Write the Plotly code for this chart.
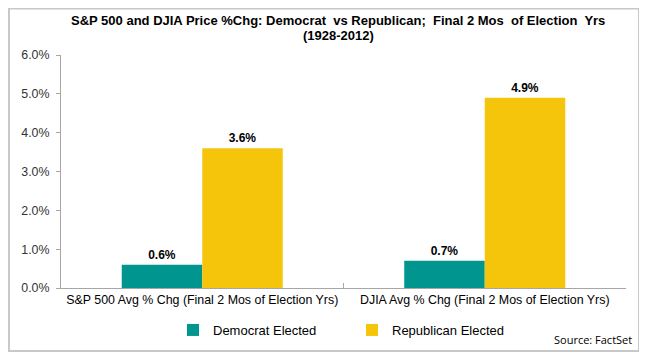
import plotly.graph_objects as go

categories = ["S&P 500 Avg % Chg (Final 2 Mos of Election Yrs)",
              "DJIA Avg % Chg (Final 2 Mos of Election Yrs)"]
democrat = [0.6, 0.7]
republican = [3.6, 4.9]
series_names = ["Democrat Elected", "Republican Elected"]
y_ticks = [0, 1, 2, 3, 4, 5, 6]

# The page body adds an 8px margin, so the figure is drawn at (8, 8).
OFF = 8
W, H = 639, 352
L, R, T, B = 53, 21, 47, 72
pw, ph = W - L - R, H - T - B

def px_x(x):  # page pixel -> paper x
    return (x - OFF - L) / pw

def px_y(y):  # page pixel -> paper y
    return (H - B - (y - OFF)) / ph

FONT = "Liberation Sans, Arial, sans-serif"

fig = go.Figure()
fig.add_trace(go.Bar(
    x=categories, y=democrat, name=series_names[0],
    marker=dict(color="#00968F", line=dict(width=0)),
    text=[f"<b>{v:.1f}%</b>" for v in democrat], textposition="outside",
    textfont=dict(family=FONT, size=12, color="#000000"),
    cliponaxis=False,
))
fig.add_trace(go.Bar(
    x=categories, y=republican, name=series_names[1],
    marker=dict(color="#F5C50C", line=dict(width=0)),
    text=[f"<b>{v:.1f}%</b>" for v in republican], textposition="outside",
    textfont=dict(family=FONT, size=12, color="#000000"),
    cliponaxis=False,
))

fig.update_layout(
    width=W, height=H,
    margin=dict(l=L, r=R, t=T, b=B, autoexpand=False),
    paper_bgcolor="white", plot_bgcolor="white",
    barmode="group", bargap=0.43, bargroupgap=0,
    font=dict(family=FONT, size=12, color="#333333"),
    showlegend=True,
    legend=dict(
        orientation="h", x=px_x(173), xanchor="left",
        y=px_y(330), yanchor="middle",
        font=dict(family=FONT, size=13, color="#000000"),
        entrywidth=134, entrywidthmode="pixels",
        itemclick=False, bgcolor="rgba(0,0,0,0)",
    ),
)

fig.update_xaxes(
    type="category", showline=True, linecolor="#A6A6A6", linewidth=1,
    ticks="inside", tickson="boundaries", ticklen=5, tickcolor="#A6A6A6",
    showgrid=False, tickfont=dict(family=FONT, size=12.4, color="#000000"),
    fixedrange=True,
)
fig.update_yaxes(
    range=[0, 6], tickvals=y_ticks, ticktext=[f"{v:.1f}%" for v in y_ticks],
    showline=True, linecolor="#A6A6A6", linewidth=1,
    ticks="outside", ticklen=4, tickcolor="#A6A6A6",
    showgrid=False, zeroline=False, ticklabelstandoff=4,
    tickfont=dict(family=FONT, size=12.4, color="#333333"),
    fixedrange=True,
)

# title (two lines)
fig.add_annotation(
    text="<b>S&P 500 and DJIA Price %Chg: Democrat  vs Republican;  Final 2 Mos  of Election  Yrs</b>",
    xref="paper", yref="paper", x=px_x(338), y=px_y(20), xanchor="center", yanchor="middle",
    showarrow=False, font=dict(family=FONT, size=13, color="#000000"))
fig.add_annotation(
    text="<b>(1928-2012)</b>",
    xref="paper", yref="paper", x=px_x(338), y=px_y(35), xanchor="center", yanchor="middle",
    showarrow=False, font=dict(family=FONT, size=13, color="#000000"))

# chart border
fig.add_shape(type="rect", xref="paper", yref="paper",
              x0=px_x(9), x1=px_x(639), y0=px_y(351), y1=px_y(8.5),
              line=dict(color="#C8C8C8", width=2), fillcolor="rgba(0,0,0,0)",
              layer="below")

fig.add_annotation(text="Source: FactSet", xref="paper", yref="paper",
                   x=px_x(634), y=px_y(339), xanchor="right", yanchor="middle",
                   showarrow=False,
                   font=dict(family="Open Sans, sans-serif", size=11, color="#000000"))

fig.write_html("out.html")
